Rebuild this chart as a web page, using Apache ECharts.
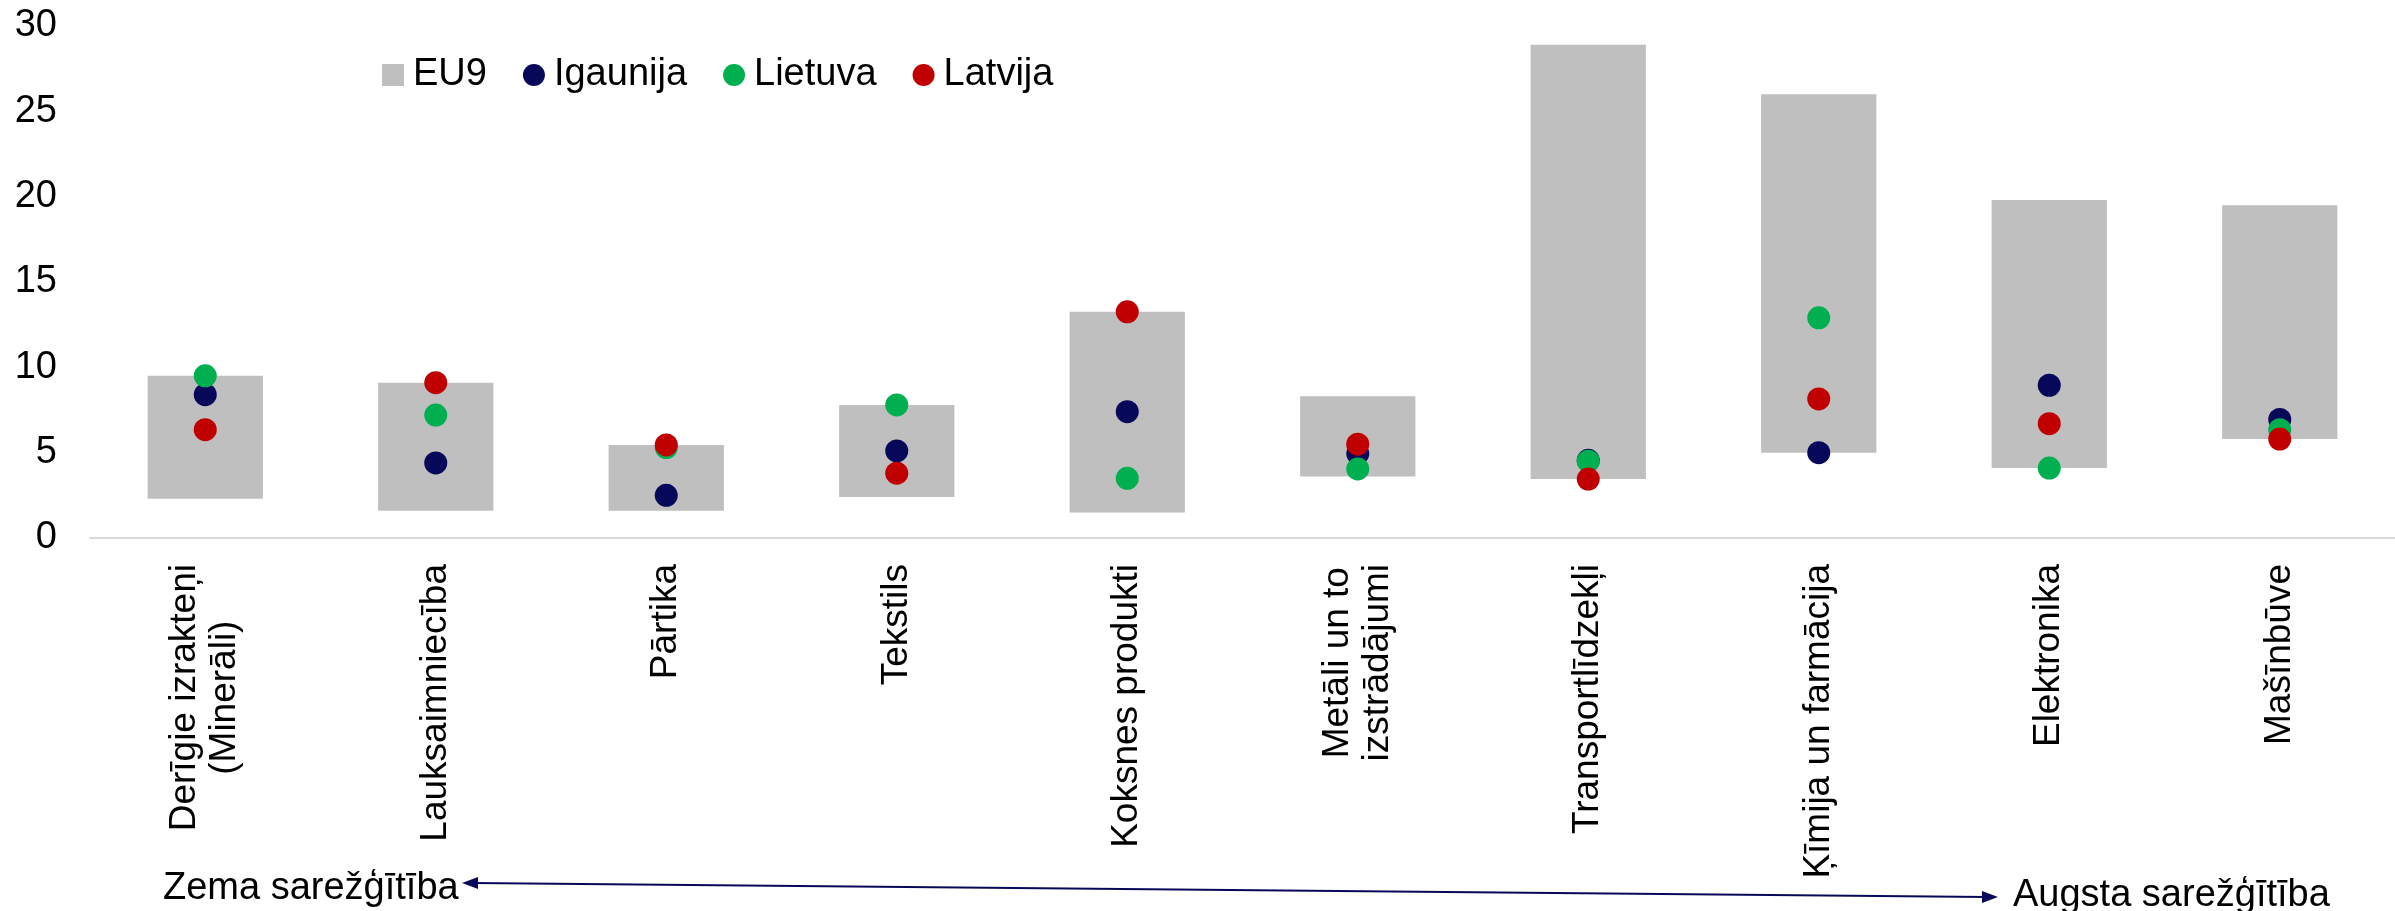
<!DOCTYPE html>
<html>
<head>
<meta charset="utf-8">
<script src="https://cdn.jsdelivr.net/npm/echarts@6/dist/echarts.min.js"></script>
<style>
html,body{margin:0;padding:0;background:#fff;}
#c{width:2395px;height:911px;}
</style>
</head>
<body>
<div id="c"></div>
<script>
const categories = ['Derīgie izrakteņi\n(Minerāli)', 'Lauksaimniecība', 'Pārtika', 'Tekstils', 'Koksnes produkti', 'Metāli un to\nizstrādājumi', 'Transportlīdzekļi', 'Ķīmija un farmācija', 'Elektronika', 'Mašīnbūve'];
const eu9Min = [2.3, 1.6, 1.6, 2.4, 1.5, 3.6, 3.45, 5.0, 4.1, 5.8];
const eu9Max = [9.5, 9.1, 5.45, 7.8, 13.25, 8.3, 28.9, 26.0, 19.8, 19.5];
const igaunija = [8.4, 4.4, 2.5, 5.1, 7.4, 4.95, 4.55, 5.0, 8.95, 6.95];
const lietuva = [9.5, 7.2, 5.3, 7.8, 3.5, 4.05, 4.5, 12.9, 4.1, 6.35];
const latvija = [6.35, 9.1, 5.45, 3.8, 13.25, 5.5, 3.45, 8.15, 6.7, 5.8];
const yTicks = {min: 0, max: 30, interval: 5};
const annotLeft = 'Zema sarežģītība';
const annotRight = 'Augsta sarežģītība';

const FONT = '"Liberation Sans", Arial, sans-serif';
const eu9Range = eu9Max.map((v, i) => +(v - eu9Min[i]).toFixed(3));
const navy = '#08085A', green = '#00B050', red = '#C00000', gray = '#BFBFBF';

const chart = echarts.init(document.getElementById('c'));
chart.setOption({
  animation: false,
  grid: {left: 90, top: 26, width: 2310, height: 512, containLabel: false},
  legend: {
    left: 377, top: 51,
    itemWidth: 22, itemHeight: 22, itemGap: 36,
    textStyle: {fontFamily: FONT, fontSize: 38, color: '#000', padding: [0, 0, 0, 4]},
    data: [
      {name: 'EU9', icon: 'rect'},
      {name: 'Igaunija', icon: 'circle'},
      {name: 'Lietuva', icon: 'circle'},
      {name: 'Latvija', icon: 'circle'}
    ]
  },
  xAxis: {
    type: 'category',
    data: categories,
    axisLine: {lineStyle: {color: '#D9D9D9', width: 2}},
    axisTick: {show: false},
    axisLabel: {
      rotate: 90, margin: 26, interval: 0,
      fontFamily: FONT, fontSize: 37, color: '#000',
      formatter: v => v.split('\n').map(s => '{c|' + s + '}').join('\n'),
      rich: {c: {align: 'center', fontFamily: FONT, fontSize: 37, color: '#000', lineHeight: 40}}
    }
  },
  yAxis: {
    type: 'value',
    min: yTicks.min, max: yTicks.max, interval: yTicks.interval,
    splitLine: {show: false},
    axisLine: {show: false},
    axisTick: {show: false},
    axisLabel: {fontFamily: FONT, fontSize: 38, color: '#000', margin: 33}
  },
  series: [
    {name: 'base', type: 'bar', stack: 'eu', data: eu9Min, barWidth: '50%',
     itemStyle: {color: 'transparent'}, silent: true},
    {name: 'EU9', type: 'bar', stack: 'eu', data: eu9Range, barWidth: '50%',
     itemStyle: {color: gray}},
    {name: 'Igaunija', type: 'scatter', data: igaunija, symbolSize: 23, itemStyle: {color: navy, opacity: 1}, z: 3},
    {name: 'Lietuva', type: 'scatter', data: lietuva, symbolSize: 23, itemStyle: {color: green, opacity: 1}, z: 4},
    {name: 'Latvija', type: 'scatter', data: latvija, symbolSize: 23, itemStyle: {color: red, opacity: 1}, z: 5}
  ],
  graphic: [
    {type: 'text', x: 163, y: 889, style: {text: annotLeft, font: '38px ' + FONT, fill: '#000', verticalAlign: 'middle', align: 'left'}},
    {type: 'text', x: 2013, y: 896, style: {text: annotRight, font: '38px ' + FONT, fill: '#000', verticalAlign: 'middle', align: 'left'}},
    {type: 'line', shape: {x1: 474, y1: 883, x2: 1986, y2: 897}, style: {stroke: navy, lineWidth: 2}},
    {type: 'polygon', shape: {points: [[462, 883], [478, 877], [478, 889]]}, style: {fill: navy}},
    {type: 'polygon', shape: {points: [[1998, 897], [1982, 891], [1982, 903]]}, style: {fill: navy}}
  ]
});
</script>
</body>
</html>
